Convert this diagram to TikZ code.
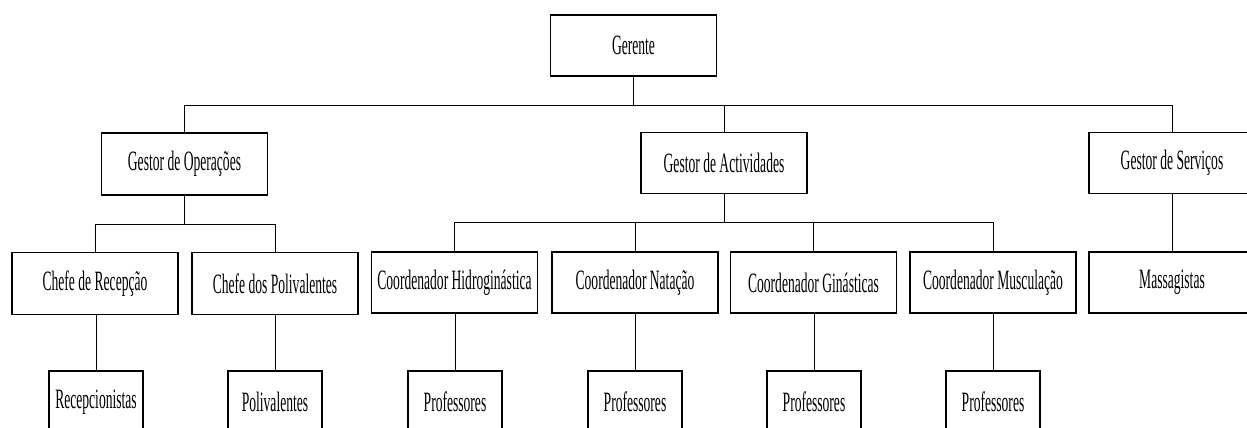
\documentclass[tikz,border=0pt]{standalone}
\usepackage{fontspec}
\setmainfont[FakeStretch=0.485]{Liberation Serif}
\begin{document}
\begin{tikzpicture}[x=1pt,y=-1pt,
  box/.style={draw, line width=1.8pt, rectangle, inner sep=0pt,
    minimum width=166pt, minimum height=61pt,
    font=\fontsize{28}{30}\selectfont},
  smallbox/.style={box, minimum width=94pt, minimum height=62pt},
  link/.style={line width=0.9pt}]
\useasboundingbox (0,0) rectangle (1247,428);
\clip (0,0) rectangle (1247,428);

% top level
\node[box] (ger) at (633.5,45.5) {Gerente};

% managers
\node[box, minimum height=62pt] (gop) at (184.5,164) {Gestor de Operações};
\node[box] (gac) at (724,163) {Gestor de Actividades};
\node[box] (gse) at (1172,163) {Gestor de Serviços};

% coordinators and heads
\node[box, minimum height=62pt] (crc) at (95,283.5) {Chefe de Recepção};
\node[box, minimum height=62pt] (cpv) at (275,283.5) {Chefe dos Polivalentes};
\node[box] (chd) at (454.5,282.5) {Coordenador Hidroginástica};
\node[box] (cnt) at (635,282.5) {Coordenador Natação};
\node[box] (cgn) at (813.5,282.5) {Coordenador Ginásticas};
\node[box] (cms) at (993,282.5) {Coordenador Musculação};
\node[box] (msg) at (1172,282.5) {Massagistas};

% staff
\node[smallbox] (rcp) at (96,402) {Recepcionistas};
\node[smallbox] (plv) at (275,402) {Polivalentes};
\node[smallbox] (pf1) at (455,402) {Professores};
\node[smallbox] (pf2) at (635,402) {Professores};
\node[smallbox] (pf3) at (814,402) {Professores};
\node[smallbox] (pf4) at (993,402) {Professores};

% bus lines
\coordinate (b1) at (0,105);
\coordinate (b2) at (0,224);
\coordinate (b3) at (0,222);

\draw[link] (ger.south) -- (ger.south |- b1);
\draw[link] (gop.north) -- (gop.north |- b1) -- (gse.north |- b1) -- (gse.north);
\draw[link] (gac.north) -- (gac.north |- b1);

\draw[link] (gop.south) -- (gop.south |- b2);
\draw[link] (crc.north) -- (crc.north |- b2) -- (cpv.north |- b2) -- (cpv.north);

\draw[link] (gac.south) -- (gac.south |- b3);
\draw[link] (chd.north) -- (chd.north |- b3) -- (cms.north |- b3) -- (cms.north);
\draw[link] (cnt.north) -- (cnt.north |- b3);
\draw[link] (cgn.north) -- (cgn.north |- b3);

\draw[link] (gse.south) -- (msg.north);

\draw[link] (crc.south -| rcp.north) -- (rcp.north);
\draw[link] (cpv.south) -- (plv.north);
\draw[link] (chd.south -| pf1.north) -- (pf1.north);
\draw[link] (cnt.south) -- (pf2.north);
\draw[link] (cgn.south -| pf3.north) -- (pf3.north);
\draw[link] (cms.south) -- (pf4.north);
\end{tikzpicture}
\end{document}
